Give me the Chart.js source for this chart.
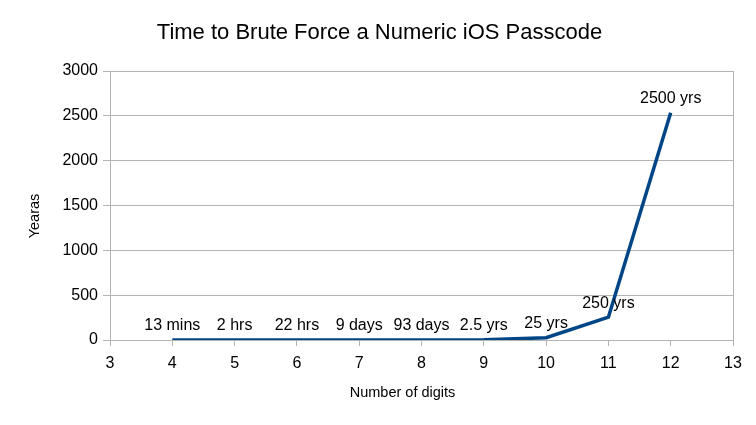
<!DOCTYPE html>
<html>
<head>
<meta charset="utf-8">
<script src="https://cdn.jsdelivr.net/npm/chart.js@4/dist/chart.umd.min.js"></script>
<style>
html,body{margin:0;padding:0;background:#fff;}
#wrap{width:756px;height:425px;}
</style>
</head>
<body>
<div id="wrap"><canvas id="c" width="756" height="425"></canvas></div>
<script>
const digits = [4, 5, 6, 7, 8, 9, 10, 11, 12];
const years = [0, 0, 0, 0.03, 0.25, 2.5, 25, 254, 2535];
const pointLabels = ["13 mins", "2 hrs", "22 hrs", "9 days", "93 days", "2.5 yrs", "25 yrs", "250 yrs", "2500 yrs"];
const xTitle = "Number of digits";
const yTitle = "Yearas";
const FONT = "'Liberation Sans', Arial, sans-serif";

const labelPlugin = {
  id: 'pointLabels',
  afterDatasetsDraw(chart) {
    const ctx = chart.ctx;
    const meta = chart.getDatasetMeta(0);
    ctx.save();
    ctx.font = "16px " + FONT;
    ctx.fillStyle = '#000';
    ctx.textAlign = 'center';
    ctx.textBaseline = 'middle';
    meta.data.forEach((pt, i) => {
      ctx.fillText(pointLabels[i], pt.x, pt.y - 14);
    });
    ctx.restore();
  }
};

const axisTitlePlugin = {
  id: 'axisTitles',
  afterDraw(chart) {
    const ctx = chart.ctx;
    const a = chart.chartArea;
    ctx.save();
    ctx.font = "14.5px " + FONT;
    ctx.fillStyle = '#000';
    ctx.textAlign = 'center';
    ctx.textBaseline = 'middle';
    ctx.fillText(xTitle, a.left + (a.right - a.left) * 0.4695, a.bottom + 53);
    ctx.translate(35, a.top + (a.bottom - a.top) * 0.539);
    ctx.rotate(-Math.PI / 2);
    ctx.fillText(yTitle, 0, 0);
    ctx.restore();
  }
};

new Chart(document.getElementById('c'), {
  type: 'line',
  data: {
    datasets: [{
      data: digits.map((d, i) => ({x: d, y: years[i]})),
      borderColor: '#004586',
      borderWidth: 3.5,
      pointRadius: 0,
      tension: 0,
      fill: false
    }]
  },
  options: {
    responsive: false,
    animation: false,
    devicePixelRatio: 1,
    layout: {padding: {left: 26, right: 23, top: 0, bottom: 0}},
    plugins: {
      legend: {display: false},
      tooltip: {enabled: false},
      title: {
        display: true,
        text: 'Time to Brute Force a Numeric iOS Passcode',
        color: '#000',
        font: {family: FONT, size: 22, weight: 'normal', lineHeight: 1.2},
        padding: {top: 20, bottom: 24.6}
      }
    },
    scales: {
      x: {
        type: 'linear',
        min: 3, max: 13,
        ticks: {stepSize: 1, color: '#000', font: {family: FONT, size: 16}, padding: 8,
                callback: (v) => String(v)},
        grid: {
          color: (c) => (c.tick && (c.tick.value === 13)) ? '#b3b3b3' : 'rgba(0,0,0,0)',
          tickColor: '#b3b3b3',
          tickLength: 6,
          drawOnChartArea: true
        },
        border: {color: '#b3b3b3'},
        afterFit: (s) => { s.height = 85; }
      },
      y: {
        min: 0, max: 3000,
        ticks: {stepSize: 500, color: '#000', font: {family: FONT, size: 16}, padding: 5,
                callback: (v) => String(v)},
        grid: {color: '#b3b3b3', tickColor: '#b3b3b3', tickLength: 7},
        border: {color: '#b3b3b3'},
        afterFit: (s) => { s.width = 84; }
      }
    }
  },
  plugins: [labelPlugin, axisTitlePlugin]
});
</script>
</body>
</html>
